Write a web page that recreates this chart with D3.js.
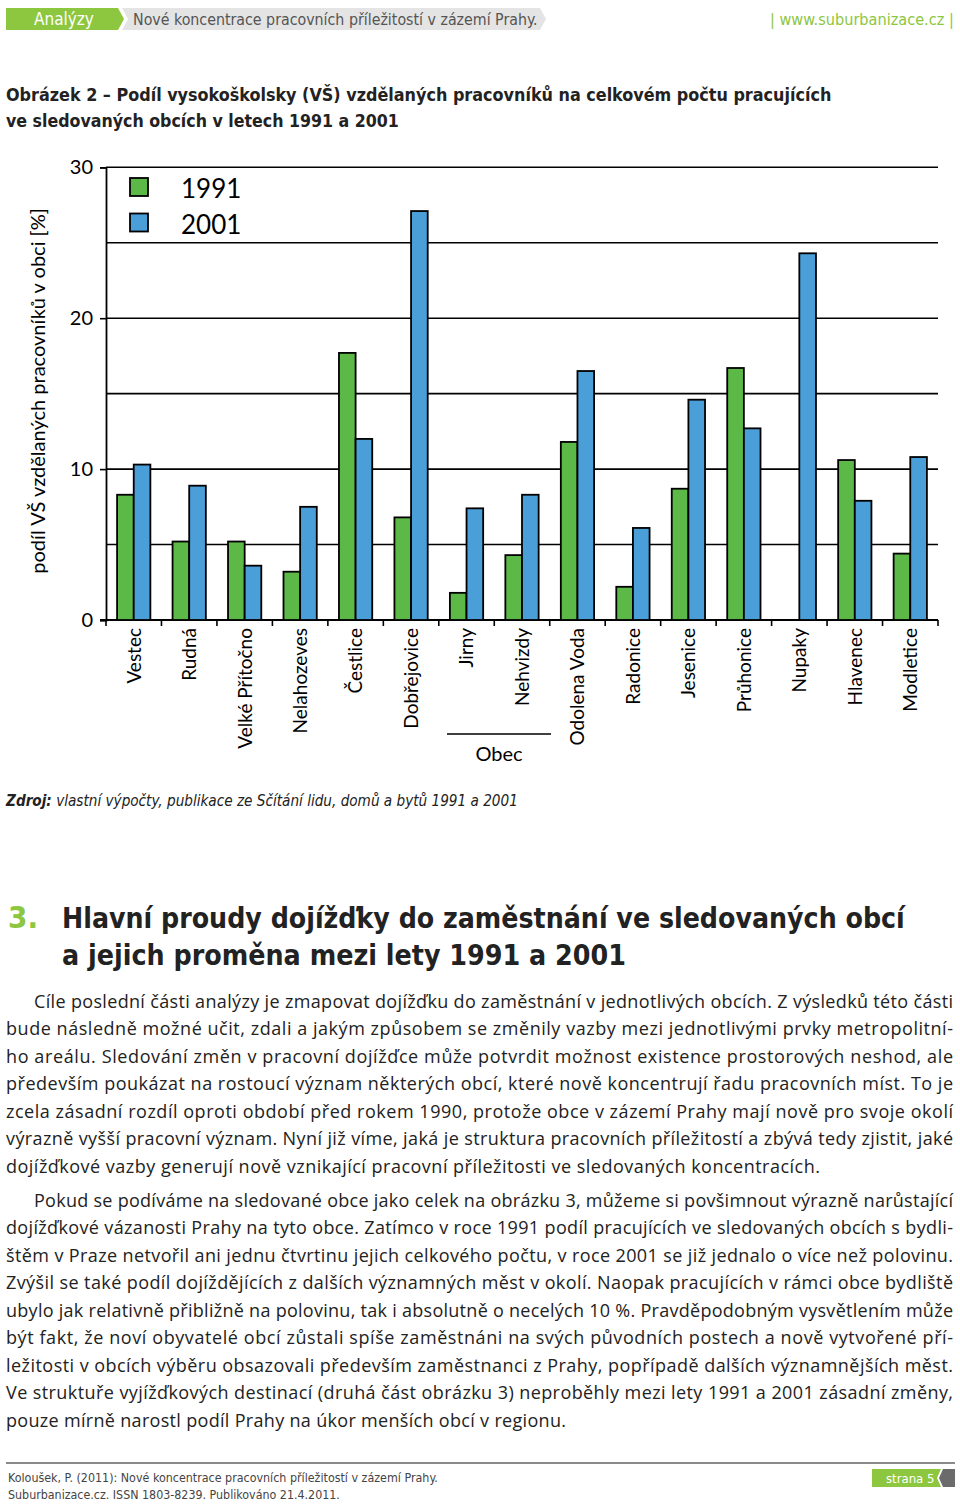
<!DOCTYPE html>
<html lang="cs">
<head>
  <meta charset="UTF-8">
  <title>Obrázek 2</title>
  <style>
    body { margin: 0; background: #fff; }
    svg { display: block; }
  </style>
</head>
<body>
<div id="output"></div>
<script src="https://d3js.org/d3.v7.min.js"></script>
<script type="text/javascript">
  // data
  const obce = ["Vestec", "Rudná", "Velké Přítočno", "Nelahozeves", "Čestlice", "Dobřejovice", "Jirny",
    "Nehvizdy", "Odolena Voda", "Radonice", "Jesenice", "Průhonice", "Nupaky", "Hlavenec", "Modletice"];
  const v1991 = [8.3, 5.2, 5.2, 3.2, 17.7, 6.8, 1.8, 4.3, 11.8, 2.2, 8.7, 16.7, 0, 10.6, 4.4];
  const v2001 = [10.3, 8.9, 3.6, 7.5, 12.0, 27.1, 7.4, 8.3, 16.5, 6.1, 14.6, 12.7, 24.3, 7.9, 10.8];
  const roky = ["1991", "2001"];
  const barvy = ["#5cb947", "#4a9fd9"];
  const yTicks = [0, 10, 20, 30];
  const yGrid = [5, 10, 15, 20, 25, 30];

  const odst1 = [
    "Cíle poslední části analýzy je zmapovat dojížďku do zaměstnání v jednotlivých obcích. Z výsledků této části",
    "bude následně možné učit, zdali a jakým způsobem se změnily vazby mezi jednotlivými prvky metropolitní-",
    "ho areálu. Sledování změn v pracovní dojížďce může potvrdit možnost existence prostorových neshod, ale",
    "především poukázat na rostoucí význam některých obcí, které nově koncentrují řadu pracovních míst. To je",
    "zcela zásadní rozdíl oproti období před rokem 1990, protože obce v zázemí Prahy mají nově pro svoje okolí",
    "výrazně vyšší pracovní význam. Nyní již víme, jaká je struktura pracovních příležitostí a zbývá tedy zjistit, jaké",
    "dojížďkové vazby generují nově vznikající pracovní příležitosti ve sledovaných koncentracích."
  ];
  const odst2 = [
    "Pokud se podíváme na sledované obce jako celek na obrázku 3, můžeme si povšimnout výrazně narůstající",
    "dojížďkové vázanosti Prahy na tyto obce. Zatímco v roce 1991 podíl pracujících ve sledovaných obcích s bydli-",
    "štěm v Praze netvořil ani jednu čtvrtinu jejich celkového počtu, v roce 2001 se již jednalo o více než polovinu.",
    "Zvýšil se také podíl dojíždějících z dalších významných měst v okolí. Naopak pracujících v rámci obce bydliště",
    "ubylo jak relativně přibližně na polovinu, tak i absolutně o necelých 10 %. Pravděpodobným vysvětlením může",
    "být fakt, že noví obyvatelé obcí zůstali spíše zaměstnáni na svých původních postech a nově vytvořené pří-",
    "ležitosti v obcích výběru obsazovali především zaměstnanci z Prahy, popřípadě dalších významnějších měst.",
    "Ve struktuře vyjížďkových destinací (druhá část obrázku 3) neproběhly mezi lety 1991 a 2001 zásadní změny,",
    "pouze mírně narostl podíl Prahy na úkor menších obcí v regionu."
  ];

  const W = 960, H = 1504;
  const narrow = "'Liberation Sans Narrow', 'DejaVu Sans Condensed', 'Roboto Condensed', sans-serif";
  const chartFont = "Lato, 'Open Sans', sans-serif";
  const bodyFont = "'Open Sans', 'Noto Sans', sans-serif";
  const lightGreen = "#8dc63f";

  const svg = d3.select("#output").append("svg")
    .attr("width", W).attr("height", H)
    .style("background", "#fff");

  // fit a text to a width: shrink the font if too wide, else spread the spacing
  function fit(sel, target) {
    const node = sel.node();
    const w = node.getComputedTextLength();
    if (w > target) {
      const fs = parseFloat(sel.style("font-size"));
      sel.style("font-size", (fs * target / w).toFixed(2) + "px");
    } else if (w < target) {
      sel.attr("textLength", target).attr("lengthAdjust", "spacing");
    }
    return sel;
  }

  // ---- page header ----
  svg.append("polygon")
    .attr("points", "6,8 118,8 124,19 118,30 6,30")
    .style("fill", lightGreen);
  svg.append("polygon")
    .attr("points", "122,8 540,8 546,19 540,30 122,30 128,19")
    .style("fill", "#e4e4e4");
  svg.append("text").attr("x", 34).attr("y", 25)
    .style("font-family", narrow).style("font-size", "17px").style("fill", "#fff")
    .text("Analýzy");
  fit(svg.append("text").attr("x", 133).attr("y", 25)
    .style("font-family", narrow).style("font-size", "17px").style("fill", "#555")
    .text("Nové koncentrace pracovních příležitostí v zázemí Prahy."), 405);
  fit(svg.append("text").attr("x", 770).attr("y", 25)
    .style("font-family", narrow).style("font-size", "17px").style("fill", lightGreen)
    .text("| www.suburbanizace.cz |"), 184);

  // ---- figure caption ----
  fit(svg.append("text").attr("x", 6).attr("y", 101)
    .style("font-family", narrow).style("font-weight", "bold").style("font-size", "21px").style("fill", "#222")
    .text("Obrázek 2 – Podíl vysokoškolsky (VŠ) vzdělaných pracovníků na celkovém počtu pracujících"), 826);
  fit(svg.append("text").attr("x", 6).attr("y", 127)
    .style("font-family", narrow).style("font-weight", "bold").style("font-size", "21px").style("fill", "#222")
    .text("ve sledovaných obcích v letech 1991 a 2001"), 393);

  // ---- chart ----
  const x = d3.scaleBand().domain(obce).range([106, 938]);
  const y = d3.scaleLinear().domain([0, 30]).range([620, 167.3]);
  const bw = x.bandwidth() * 0.3;
  const g = svg.append("g");

  g.selectAll(".grid").data(yGrid).enter().append("line")
    .attr("x1", 106).attr("x2", 938)
    .attr("y1", d => y(d)).attr("y2", d => y(d))
    .style("stroke", "#000").style("stroke-width", 1.6);

  const yAxis = g.append("g").attr("transform", "translate(106,0)")
    .call(d3.axisLeft(y).tickValues(yTicks).tickSize(6).tickPadding(7).tickFormat(d3.format("d")));
  yAxis.select(".domain").style("stroke-width", 1.8);
  yAxis.selectAll(".tick line").style("stroke-width", 1.6);
  yAxis.selectAll("text").style("font-family", chartFont).style("font-size", "20px").style("fill", "#000");

  // x axis: line + ticks on band boundaries
  g.append("line").attr("x1", 100).attr("x2", 938).attr("y1", y(0)).attr("y2", y(0))
    .style("stroke", "#000").style("stroke-width", 1.8);
  const hranice = obce.map(d => x(d)).concat([x(obce[obce.length - 1]) + x.bandwidth()]);
  g.selectAll(".xtick").data(hranice).enter().append("line")
    .attr("x1", d => d).attr("x2", d => d)
    .attr("y1", y(0)).attr("y2", y(0) + 6)
    .style("stroke", "#000").style("stroke-width", 1.6);

  const serie = [v1991, v2001];
  serie.forEach((vals, si) => {
    g.selectAll(".bar" + si).data(obce.map((d, i) => ({ obec: d, v: vals[i] })).filter(d => d.v > 0))
      .enter().append("rect")
      .attr("x", d => x(d.obec) + x.bandwidth() / 2 - bw + si * bw)
      .attr("y", d => y(d.v))
      .attr("width", bw)
      .attr("height", d => y(0) - y(d.v))
      .style("fill", barvy[si])
      .style("stroke", "#000")
      .style("stroke-width", 1.8);
  });

  g.selectAll(".xlab").data(obce).enter().append("text")
    .attr("transform", d => "translate(" + (x(d) + x.bandwidth() / 2) + "," + (y(0) + 8) + ") rotate(-90)")
    .attr("text-anchor", "end")
    .attr("dy", "0.36em")
    .style("font-family", chartFont).style("font-size", "19px").style("fill", "#000")
    .text(d => d);

  // "Obec" axis title
  g.append("line").attr("x1", 447).attr("x2", 551).attr("y1", 734).attr("y2", 734)
    .style("stroke", "#000").style("stroke-width", 1.6);
  g.append("text").attr("x", 499).attr("y", 761).attr("text-anchor", "middle")
    .style("font-family", chartFont).style("font-size", "20px").style("fill", "#000")
    .text("Obec");

  // y axis title
  g.append("text")
    .attr("transform", "translate(45,391) rotate(-90)")
    .attr("text-anchor", "middle")
    .style("font-family", chartFont).style("font-size", "20px").style("fill", "#000")
    .text("podíl VŠ vzdělaných pracovníků v obci [%]");

  // legend
  const leg = g.selectAll(".leg").data(roky).enter().append("g")
    .attr("transform", (d, i) => "translate(130," + (178 + i * 35.5) + ")");
  leg.append("rect").attr("width", 18).attr("height", 18)
    .style("fill", (d, i) => barvy[i]).style("stroke", "#000").style("stroke-width", 1.8);
  leg.append("text").attr("x", 51).attr("y", 20)
    .style("font-family", chartFont).style("font-size", "26px").style("fill", "#000")
    .text(d => d);

  // source
  const zdroj = svg.append("text").attr("x", 6).attr("y", 806)
    .style("font-family", narrow).style("font-size", "16px").style("font-style", "italic").style("fill", "#222");
  zdroj.append("tspan").style("font-weight", "bold").text("Zdroj:");
  zdroj.append("tspan").text(" vlastní výpočty, publikace ze Sčítání lidu, domů a bytů 1991 a 2001");
  fit(zdroj, 512);

  // ---- section heading ----
  svg.append("text").attr("x", 8).attr("y", 928)
    .style("font-family", narrow).style("font-weight", "bold").style("font-size", "31px").style("fill", lightGreen)
    .text("3.");
  fit(svg.append("text").attr("x", 62).attr("y", 928)
    .style("font-family", narrow).style("font-weight", "bold").style("font-size", "31px").style("fill", "#222")
    .text("Hlavní proudy dojížďky do zaměstnání ve sledovaných obcí"), 843);
  fit(svg.append("text").attr("x", 62).attr("y", 965)
    .style("font-family", narrow).style("font-weight", "bold").style("font-size", "31px").style("fill", "#222")
    .text("a jejich proměna mezi lety 1991 a 2001"), 564);

  // ---- body paragraphs (justified lines) ----
  function odstavec(radky, y0, konec) {
    radky.forEach((r, i) => {
      const x0 = i === 0 ? 34 : 6;
      const x1 = i === radky.length - 1 ? konec : 953;
      fit(svg.append("text").attr("x", x0).attr("y", y0 + i * 27.45)
        .style("font-family", bodyFont).style("font-size", "18px").style("fill", "#222")
        .text(r), x1 - x0);
    });
  }
  odstavec(odst1, 1008, 820);
  odstavec(odst2, 1207, 566);

  // ---- footer ----
  svg.append("line").attr("x1", 6).attr("x2", 955).attr("y1", 1463).attr("y2", 1463)
    .style("stroke", "#8a8a8a").style("stroke-width", 2);
  fit(svg.append("text").attr("x", 8).attr("y", 1482)
    .style("font-family", narrow).style("font-size", "13px").style("fill", "#444")
    .text("Koloušek, P. (2011): Nové koncentrace pracovních příležitostí v zázemí Prahy."), 430);
  fit(svg.append("text").attr("x", 8).attr("y", 1499)
    .style("font-family", narrow).style("font-size", "13px").style("fill", "#444")
    .text("Suburbanizace.cz. ISSN 1803-8239. Publikováno 21.4.2011."), 332);
  svg.append("polygon")
    .attr("points", "872,1469 941,1469 937,1478 941,1487 872,1487")
    .style("fill", lightGreen);
  svg.append("polygon")
    .attr("points", "943,1469 955,1469 955,1487 943,1487 939,1478")
    .style("fill", "#6b6b6b");
  svg.append("text").attr("x", 886).attr("y", 1483)
    .style("font-family", narrow).style("font-size", "13px").style("fill", "#fff")
    .text("strana 5");
</script>
</body>
</html>
